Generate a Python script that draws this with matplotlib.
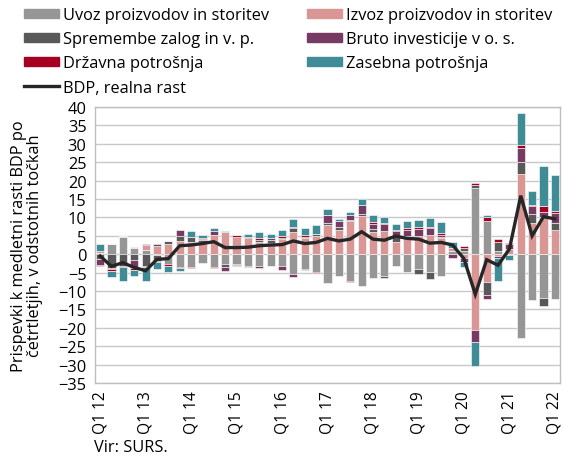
import numpy as np
import matplotlib
matplotlib.use("Agg")
import matplotlib.pyplot as plt
from matplotlib.patches import Patch
from matplotlib.lines import Line2D

plt.rcParams['font.family'] = ['Open Sans', 'DejaVu Sans']
FS = 11.8

# quarters Q1 2012 .. Q1 2022
quarters = [f"Q{q} {y}" for y in range(12, 23) for q in range(1, 5)][:41]
tick_labels = [f"Q1 {y}" for y in range(12, 23)]

# contributions to y/y GDP growth, p.p.
uvoz = [0.2, 2.9, 4.6, 1.6, 1.2, -0.3, -2.7, -3.5,
        -3.5, -2.3, -3.6, -2.7, -2.7, -3.2, -3.2, -3.2,
        -3.2, -5.5, -4.0, -4.8, -7.7, -5.9, -7.3, -8.6,
        -6.6, -5.9, -3.2, -4.8, -4.1, -4.8, -5.9, 1.0,
        0.9, 17.9, 9.1, 0.8, -0.3, -22.7, -12.5, -12.0, -12.1]
izvoz = [0.8, 0.0, 0.4, 0.4, 1.2, 2.2, 2.7, 3.6,
         3.2, 3.2, 5.3, 5.9, 4.8, 4.3, 3.3, 3.1,
         4.1, 5.9, 4.3, 5.0, 7.9, 6.6, 9.0, 10.3,
         5.9, 6.4, 3.4, 5.0, 5.0, 5.3, 4.3, 0.8,
         -0.9, -20.5, -7.6, -0.4, 1.5, 21.8, 8.6, 10.0, 6.5]
zalog = [-1.3, -3.8, -3.2, -1.5, -3.2, -1.6, 0.9, 1.3,
         1.6, 0.6, 0.0, -0.7, -0.3, 0.0, 0.5, 0.7,
         0.4, 1.1, 0.4, 0.5, 0.7, 0.9, 0.3, 0.6,
         0.9, -0.5, 1.2, 0.0, -1.4, -2.0, 0.4, 0.0,
         0.7, 0.9, -3.6, 2.6, 0.0, 3.2, 2.3, -2.0, 1.9]
bruto = [-1.6, -0.3, 0.0, -2.3, 0.4, 0.5, 0.0, 1.8,
         0.0, 0.4, 1.1, -1.3, -0.3, -0.4, -0.5, 0.5,
         -1.0, -0.6, -0.4, 0.0, 2.0, 1.4, 1.4, 2.5,
         1.5, 1.7, 1.6, 1.5, 1.8, 1.7, 0.6, -0.9,
         -1.2, -3.4, -1.1, -0.5, 1.3, 3.8, 2.1, 1.6, 2.9]
drzavna = [-0.3, -0.4, -0.4, -0.4, -0.4, -0.3, -0.4, -0.3,
           -0.3, 0.2, -0.2, 0.0, 0.3, 0.4, 0.5, 0.0,
           0.4, 0.5, 0.4, -0.2, 0.0, 0.0, -0.2, 0.0,
           0.4, 0.4, 0.3, 0.5, 0.5, 0.4, 0.5, 0.0,
           0.5, 0.5, 0.9, 0.7, 0.2, 1.0, 0.4, 1.4, 0.45]
zasebna = [1.7, -1.7, -3.7, -1.6, -3.7, -1.8, -1.8, -0.8,
           1.4, 0.8, 0.7, 0.5, 0.0, 0.9, 1.7, 1.2,
           1.6, 2.0, 2.0, 2.5, 1.6, 0.6, 0.8, 1.5,
           2.0, 1.6, 1.7, 2.0, 2.1, 2.4, 3.0, 1.6,
           -1.5, -6.5, 0.6, -6.3, -1.2, 8.6, 3.9, 11.1, 9.7]
bdp = [-0.5, -3.3, -2.3, -3.6, -4.5, -1.4, -1.2, 2.3,
       2.5, 2.9, 3.4, 1.8, 1.8, 1.9, 2.3, 2.5,
       2.6, 3.6, 2.9, 3.2, 4.3, 3.6, 4.1, 6.1,
       4.1, 3.8, 4.9, 4.3, 4.1, 3.0, 3.2, 2.5,
       -1.2, -10.9, -1.5, -3.0, 1.4, 15.9, 5.0, 10.2, 9.6]

series = [
    ("Uvoz proizvodov in storitev", uvoz, "#969696"),
    ("Izvoz proizvodov in storitev", izvoz, "#da9694"),
    ("Spremembe zalog in v. p.", zalog, "#595959"),
    ("Bruto investicije v o. s.", bruto, "#773a63"),
    ("Državna potrošnja", drzavna, "#a50021"),
    ("Zasebna potrošnja", zasebna, "#3f8b96"),
]
colors = {name: c for name, _, c in series}

fig = plt.figure(figsize=(5.63, 4.6), dpi=100)
ax = fig.add_axes([95 / 563, 1 - 384 / 460, (560 - 95) / 563, (384 - 108) / 460])

x = np.arange(len(quarters))
pos = np.zeros(len(x))
neg = np.zeros(len(x))
for name, vals, col in series:
    v = np.array(vals, dtype=float)
    bottom = np.where(v >= 0, pos, neg)
    ax.bar(x, v, bottom=bottom, width=0.72, color=col, edgecolor='white',
           linewidth=0.4, zorder=2)
    pos = pos + np.clip(v, 0, None)
    neg = neg + np.clip(v, None, 0)

ax.plot(x, bdp, color='#262626', lw=2.4, zorder=3, solid_joinstyle='miter')

ax.set_xlim(-0.45, 40.45)
ax.set_ylim(-35, 40)
ax.set_yticks(range(-35, 41, 5))
ax.set_xticks(x[::4])
ax.set_xticklabels(tick_labels, rotation=90)
ax.tick_params(axis='both', length=0, labelsize=FS, colors='black')
ax.tick_params(axis='x', labelsize=11.2, pad=5)
ax.tick_params(axis='y', pad=6)
ax.grid(axis='y', color='#c8c8c8', lw=1.0, zorder=0)
ax.set_axisbelow(True)
for s in ax.spines.values():
    s.set_color('#bfbfbf')
    s.set_linewidth(1.0)

ax.set_ylabel("Prispevki k medletni rasti BDP po\nčetrtletjih, v odstotnih točkah",
              fontsize=FS, labelpad=11, linespacing=1.0)

# legend, two columns placed separately
h_left = [Patch(color=colors["Uvoz proizvodov in storitev"]),
          Patch(color=colors["Spremembe zalog in v. p."]),
          Patch(color=colors["Državna potrošnja"]),
          Line2D([], [], color='#262626', lw=2.4)]
l_left = ["Uvoz proizvodov in storitev", "Spremembe zalog in v. p.",
          "Državna potrošnja", "BDP, realna rast"]
h_right = [Patch(color=colors["Izvoz proizvodov in storitev"]),
           Patch(color=colors["Bruto investicije v o. s."]),
           Patch(color=colors["Zasebna potrošnja"])]
l_right = ["Izvoz proizvodov in storitev", "Bruto investicije v o. s.",
           "Zasebna potrošnja"]
common = dict(loc='upper left', frameon=False, fontsize=FS, borderpad=0,
              borderaxespad=0, handlelength=2.15, handleheight=0.5,
              handletextpad=0.25, labelspacing=0.5)
fig.legend(h_left, l_left, bbox_to_anchor=(24 / 563, 1 - 8 / 460), **common)
fig.legend(h_right, l_right, bbox_to_anchor=(307 / 563, 1 - 8 / 460), **common)

fig.text(94 / 563, 1 - 448 / 460, "Vir: SURS.", fontsize=FS, va='center')

fig.savefig("out.png", dpi=100)
